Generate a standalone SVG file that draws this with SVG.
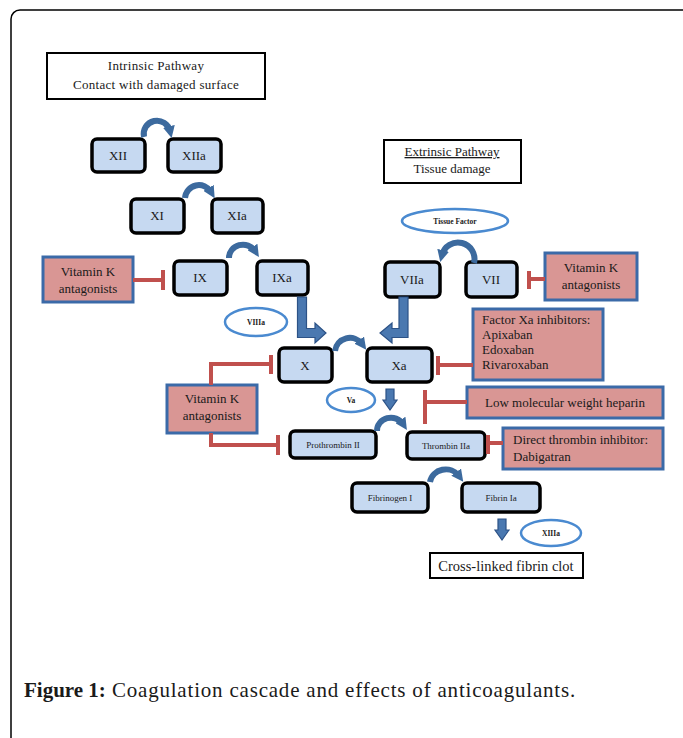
<svg xmlns="http://www.w3.org/2000/svg" width="683" height="738" viewBox="0 0 683 738">
<style>
.frame{fill:#fff;stroke:#000;stroke-width:1.5}
.node rect{fill:#c6d9f1;stroke:#000;stroke-width:3.5}
.drug rect{fill:#d99694;stroke:#3b6aa8;stroke-width:3}
.plain rect{fill:#fff;stroke:#000;stroke-width:2}
.cof ellipse{fill:#fff;stroke:#4a8ad0;stroke-width:2.5}
text{font-family:"Liberation Serif","Times New Roman",serif;fill:#1a1a1a}
.t13{font-size:13px;text-anchor:middle}
.t9{font-size:9px;text-anchor:middle}
.t7{font-size:7.5px;text-anchor:middle;font-weight:bold}
.dl{font-size:13px}
.arc{fill:none;stroke:#3c6a9e;stroke-width:6}
.blk{fill:#4a78b0;stroke:#2c5286;stroke-width:1.2}
.inh{fill:none;stroke:#c0504d;stroke-width:4}
</style>
<defs>
<marker id="ah" viewBox="0 0 10 10" refX="4" refY="5" markerWidth="12" markerHeight="12" markerUnits="userSpaceOnUse" orient="auto">
<path d="M0,0 L10,5 L0,10 z" fill="#3c6a9e"/>
</marker>
</defs>
<rect class="frame" x="11" y="10" width="680" height="760" rx="9"/>

<g id="intrinsic" class="plain"><rect x="47" y="53" width="218" height="46"/>
<text class="t13" x="156" y="70" letter-spacing="0.3">Intrinsic  Pathway</text>
<text class="t13" x="156" y="89" letter-spacing="0.3">Contact with damaged surface</text></g>

<g id="extrinsic" class="plain"><rect x="384" y="140" width="137" height="43"/>
<text class="t13" x="452" y="156" text-decoration="underline">Extrinsic  Pathway</text>
<text class="t13" x="452" y="173">Tissue  damage</text></g>

<g id="XII" class="node"><rect x="92" y="139" width="53" height="33" rx="5"/><text class="t13" x="118" y="160">XII</text></g>
<g id="XIIa" class="node"><rect x="168" y="139" width="53" height="33" rx="5"/><text class="t13" x="194" y="160">XIIa</text></g>
<g id="XI" class="node"><rect x="131" y="199" width="53" height="34" rx="5"/><text class="t13" x="157" y="220">XI</text></g>
<g id="XIa" class="node"><rect x="212" y="199" width="51" height="34" rx="5"/><text class="t13" x="237" y="220">XIa</text></g>
<g id="IX" class="node"><rect x="174" y="261" width="53" height="34" rx="5"/><text class="t13" x="200" y="282">IX</text></g>
<g id="IXa" class="node"><rect x="257" y="261" width="51" height="34" rx="5"/><text class="t13" x="282" y="282">IXa</text></g>
<g id="VIIa" class="node"><rect x="385" y="262" width="55" height="35" rx="5"/><text class="t13" x="412" y="284">VIIa</text></g>
<g id="VII" class="node"><rect x="466" y="262" width="51" height="35" rx="5"/><text class="t13" x="491" y="284">VII</text></g>
<g id="X" class="node"><rect x="279" y="348" width="53" height="34" rx="5"/><text class="t13" x="305" y="370">X</text></g>
<g id="Xa" class="node"><rect x="367" y="348" width="65" height="34" rx="5"/><text class="t13" x="399" y="370">Xa</text></g>
<g id="ProthrombinII" class="node"><rect x="290" y="431" width="86" height="27" rx="5"/><text class="t9" x="333" y="448">Prothrombin II</text></g>
<g id="ThrombinIIa" class="node"><rect x="407" y="432" width="78" height="27" rx="5"/><text class="t9" x="446" y="449">Thrombin IIa</text></g>
<g id="FibrinogenI" class="node"><rect x="352" y="483" width="76" height="29" rx="5"/><text class="t9" x="390" y="501">Fibrinogen I</text></g>
<g id="FibrinIa" class="node"><rect x="462" y="483" width="78" height="29" rx="5"/><text class="t9" x="501" y="501">Fibrin Ia</text></g>

<g id="clot" class="plain"><rect x="430" y="553" width="153" height="25"/><text x="506" y="571" style="font-size:14.5px;text-anchor:middle">Cross-linked  fibrin  clot</text></g>

<g id="VKA1" class="drug"><rect x="43" y="257" width="90" height="45"/><text class="t13" x="88" y="276">Vitamin K</text><text class="t13" x="88" y="293">antagonists</text></g>
<g id="VKA2" class="drug"><rect x="545" y="253" width="92" height="47"/><text class="t13" x="591" y="272">Vitamin K</text><text class="t13" x="591" y="289">antagonists</text></g>
<g id="VKA3" class="drug"><rect x="167" y="385" width="90" height="48"/><text class="t13" x="212" y="403">Vitamin K</text><text class="t13" x="212" y="420">antagonists</text></g>
<g id="FXa" class="drug"><rect x="473" y="309" width="130" height="71"/>
<text class="dl" x="482" y="324">Factor Xa inhibitors:</text><text class="dl" x="482" y="339">Apixaban</text><text class="dl" x="482" y="354">Edoxaban</text><text class="dl" x="482" y="369">Rivaroxaban</text></g>
<g id="LMWH" class="drug"><rect x="467" y="387" width="196" height="31"/><text class="t13" x="565" y="407">Low  molecular weight  heparin</text></g>
<g id="DTI" class="drug"><rect x="503" y="428" width="160" height="41"/><text class="dl" x="513" y="444">Direct thrombin  inhibitor:</text><text class="dl" x="513" y="461">Dabigatran</text></g>

<g id="TF" class="cof"><ellipse cx="455" cy="221" rx="53" ry="12"/><text class="t7" x="455" y="224">Tissue Factor</text></g>
<g id="VIIIa" class="cof"><ellipse cx="256" cy="322" rx="31" ry="14"/><text class="t7" x="256" y="325">VIIIa</text></g>
<g id="Va" class="cof"><ellipse cx="351" cy="400" rx="24" ry="12"/><text class="t7" x="351" y="403">Va</text></g>
<g id="XIIIa" class="cof"><ellipse cx="551" cy="533" rx="30" ry="13"/><text class="t7" x="551" y="536">XIIIa</text></g>

<g id="connectors">
<path class="arc" d="M144,137 A13,13 0 0 1 170,131" marker-end="url(#ah)"/>
<path class="arc" d="M185,198 A14,14 0 0 1 211,192" marker-end="url(#ah)"/>
<path class="arc" d="M229,258 A14,13 0 0 1 255,251" marker-end="url(#ah)"/>
<path class="arc" d="M474,263 A16,16 0 0 0 442,255" marker-end="url(#ah)"/>
<path class="arc" d="M335,351 A15,15 0 0 1 362,344" marker-end="url(#ah)"/>
<path class="arc" d="M377,431 A14,13 0 0 1 403,424" marker-end="url(#ah)"/>
<path class="arc" d="M430,482 A16,15 0 0 1 459,476" marker-end="url(#ah)"/>

<path class="blk" d="M297.5,297 L306.5,297 L306.5,328.5 L315,328.5 L315,323 L326,333 L315,343 L315,337.5 L297.5,337.5 Z"/>
<path class="blk" d="M399,297 L408,297 L408,337.5 L392,337.5 L392,343 L380,333 L392,323 L392,328.5 L399,328.5 Z"/>
<path class="blk" d="M386,389 L394,389 L394,400 L397,400 L390,410 L383,400 L386,400 Z"/>
<path class="blk" d="M498,519 L506,519 L506,530 L509,530 L502,540 L495,530 L498,530 Z"/>

<path class="inh" d="M133,280 H163 M163,270 V290"/>
<path class="inh" d="M545,279 H529 M529,271 V289"/>
<path class="inh" d="M473,365 H438 M438,356 V375"/>
<path class="inh" d="M211,385 V364 H271 M271,355 V374"/>
<path class="inh" d="M211,433 V445 H278 M278,435 V455"/>
<path class="inh" d="M467,402 H425 M425,390 V424"/>
<path class="inh" d="M503,443 H488 M488,435 V454"/>
</g>

<text x="24" y="697" style="font-size:21px" letter-spacing="0.8"><tspan font-weight="bold" letter-spacing="0">Figure 1:</tspan> Coagulation cascade and effects of anticoagulants.</text>
</svg>
